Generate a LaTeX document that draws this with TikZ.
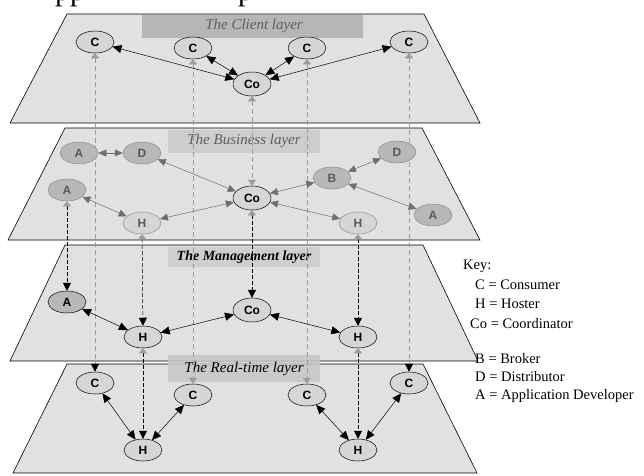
\documentclass[tikz,border=0pt]{standalone}
\usepackage{fontspec}
\setmainfont{Liberation Serif}
\setsansfont{Liberation Sans}
\usetikzlibrary{arrows.meta,shapes.geometric}

\definecolor{layerfill}{HTML}{E1E1E1}
\definecolor{bandclient}{HTML}{B6B6B6}
\definecolor{bandbusiness}{HTML}{CDCDCD}
\definecolor{bandmanage}{HTML}{CFCFCF}
\definecolor{bandreal}{HTML}{C6C6C6}
\definecolor{nodefill}{HTML}{D6D6D6}
\definecolor{darkfill}{HTML}{B8B8B8}
\definecolor{softborder}{HTML}{8C8C8C}
\definecolor{softtext}{HTML}{5A5A5A}
\definecolor{vgray}{HTML}{9A9A9A}
\definecolor{tipgray}{HTML}{9C9C9C}
\definecolor{linkgray}{HTML}{6E6E6E}
\definecolor{bandtext}{HTML}{5E5E5E}

\pgfdeclarelayer{planes}
\pgfdeclarelayer{verticals}
\pgfsetlayers{planes,verticals,main}

\tikzset{
  layer/.style={fill=layerfill, draw=black, line width=0.6pt},
  bandlabel/.style={font=\itshape\fontsize{15}{15}\selectfont, inner sep=0pt},
  basenode/.style={ellipse, inner sep=0pt, minimum width=38pt, minimum height=22pt,
    font=\sffamily\bfseries\fontsize{12}{12}\selectfont, line width=0.5pt},
  cnode/.style={basenode, fill=nodefill, draw=black, text=black},
  cdark/.style={basenode, fill=darkfill, draw=black, text=black},
  bdark/.style={basenode, fill=darkfill, draw=softborder, text=softtext},
  blight/.style={basenode, fill=nodefill, draw=softborder, text=softtext},
  blink/.style={draw=black, line width=0.5pt,
    arrows={{Triangle[length=9pt,width=8pt]}-{Triangle[length=9pt,width=8pt]}}},
  glink/.style={draw=linkgray, line width=0.5pt,
    arrows={{Triangle[length=8pt,width=7pt,color=linkgray]}-{Triangle[length=8pt,width=7pt,color=linkgray]}}},
  vgrayline/.style={draw=vgray, line width=0.5pt, dash pattern=on 5pt off 3pt},
  vblackline/.style={draw=black, line width=0.5pt, dash pattern=on 4pt off 2pt},
  tipsgb/.style={arrows={{Triangle[length=5pt,width=8pt,color=tipgray]}-{Triangle[length=8pt,width=8pt,color=black]}}},
  tipsgg/.style={arrows={{Triangle[length=5pt,width=8pt,color=tipgray]}-{Triangle[length=6pt,width=8pt,color=tipgray]}}},
  keytext/.style={anchor=base west, inner sep=0pt, font=\fontsize{14.5}{14.5}\selectfont},
  cutline/.style={anchor=base west, inner sep=0pt, font=\fontsize{30}{30}\selectfont},
}

\begin{document}
\begin{tikzpicture}[x=1pt, y=-1pt]
\useasboundingbox (0,0) rectangle (644,475);

% descenders of a text line that runs past the top edge
\node[cutline] (cutA) at (55,0.5) {pp};
\node[cutline] (cutB) at (238,0.5) {p};

\begin{pgfonlayer}{planes}
% ---- the four layers ----
\path[layer] (67,14) -- (424,14) -- (480,123) -- (10,123) -- cycle;
\path[layer] (65,128) -- (422,128) -- (480,240) -- (8,240) -- cycle;
\path[layer] (65,245) -- (423,245) -- (478,361) -- (10,361) -- cycle;
\path[layer] (67,364) -- (423,364) -- (477,473) -- (13,473) -- cycle;

% ---- title bands ----
\fill[bandclient] (142,15) rectangle (363,38);
\node[bandlabel, text=bandtext] (tclient) at (254,26) {The Client layer};
\fill[bandbusiness] (168,130) rectangle (320,153);
\node[bandlabel, text=bandtext] (tbusiness) at (244,141) {The Business layer};
\fill[bandmanage] (168,247) rectangle (320,267);
\node[bandlabel, font=\bfseries\itshape\fontsize{14}{14}\selectfont] (tmanage) at (244,257) {The Management layer};
\fill[bandreal, opacity=0.85] (168,355) rectangle (320,382);
\node[bandlabel] (treal) at (244,369) {The Real-time layer};
\end{pgfonlayer}

% ---- nodes: client layer ----
\node[cnode] (cC1) at (95,42) {C};
\node[cnode] (cC2) at (193,48) {C};
\node[cnode] (cC3) at (307,48) {C};
\node[cnode] (cC4) at (409,42) {C};
\node[cnode, minimum height=24pt] (cCo) at (252,84) {Co};

% ---- nodes: business layer ----
\node[bdark] (bA1) at (79,153) {A};
\node[bdark] (bD1) at (142,153) {D};
\node[bdark] (bA2) at (67,190) {A};
\node[blight] (bH1) at (142,223) {H};
\node[cnode, minimum height=24pt] (bCo) at (252,198) {Co};
\node[bdark] (bB) at (332,178) {B};
\node[bdark] (bD2) at (397,152) {D};
\node[bdark] (bA3) at (433,215) {A};
\node[blight] (bH2) at (358,223) {H};

% ---- nodes: management layer ----
\node[cdark] (mA) at (67,302) {A};
\node[cnode] (mH1) at (143,337) {H};
\node[cnode, minimum height=24pt] (mCo) at (252,310) {Co};
\node[cnode] (mH2) at (358,337) {H};

% ---- nodes: real-time layer ----
\node[cnode] (rC1) at (95,383) {C};
\node[cnode] (rC2) at (193,395) {C};
\node[cnode] (rC3) at (307,395) {C};
\node[cnode] (rC4) at (409,383) {C};
\node[cnode] (rH1) at (143,450) {H};
\node[cnode] (rH2) at (358,450) {H};

% ---- vertical links between layers, behind the nodes ----
\begin{pgfonlayer}{verticals}
\draw[vgrayline, tipsgb] (cC1) -- (rC1);
\draw[vgrayline, tipsgg] (cC2) -- (rC2);
\draw[vgrayline, tipsgg] (cC3) -- (rC3);
\draw[vgrayline, tipsgb] (cC4) -- (rC4);
\draw[vgrayline, tipsgg] (cCo) -- (bCo);
\draw[vblackline, tipsgb] (bCo) -- (mCo);
\draw[vblackline, tipsgb] (bA2) -- (mA);
\draw[vblackline, tipsgb] (bH1) -- (mH1);
\draw[vblackline, tipsgb] (bH2) -- (mH2);
\draw[vblackline, tipsgb] (mH1) -- (rH1);
\draw[vblackline, tipsgb] (mH2) -- (rH2);
\end{pgfonlayer}

% ---- links inside each layer ----
\draw[blink] (cC1) -- (cCo);
\draw[blink] (cC2) -- (cCo);
\draw[blink] (cC3) -- (cCo);
\draw[blink] (cC4) -- (cCo);

\draw[glink] (bA1) -- (bD1);
\draw[glink] (bD1) -- (bCo);
\draw[glink] (bA2) -- (bH1);
\draw[glink] (bH1) -- (bCo);
\draw[glink] (bCo) -- (bB);
\draw[glink] (bCo) -- (bH2);
\draw[glink] (bB) -- (bD2);
\draw[glink] (bB) -- (bA3);

\draw[blink] (mA) -- (mH1);
\draw[blink] (mH1) -- (mCo);
\draw[blink] (mCo) -- (mH2);

\draw[blink] (rC1) -- (rH1);
\draw[blink] (rC2) -- (rH1);
\draw[blink] (rC3) -- (rH2);
\draw[blink] (rC4) -- (rH2);

% ---- key ----
\node[keytext] (key) at (463,269) {Key:};
\node[keytext] (keyC) at (475,289) {C = Consumer};
\node[keytext] (keyH) at (475,308) {H = Hoster};
\node[keytext] (keyCo) at (470,328) {Co = Coordinator};
\node[keytext] (keyB) at (475,363) {B = Broker};
\node[keytext] (keyD) at (475,381) {D = Distributor};
\node[keytext] (keyA) at (475,399) {A = Application Developer};
\end{tikzpicture}
\end{document}
